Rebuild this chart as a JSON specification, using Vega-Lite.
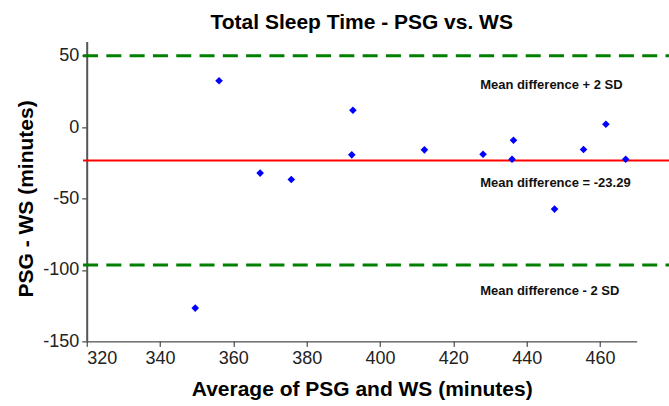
{
  "$schema": "https://vega.github.io/schema/vega-lite/v6.json",
  "width": 550,
  "height": 300,
  "autosize": {"type": "none"},
  "padding": {"left": 86.7, "top": 41.4, "right": 32.3, "bottom": 64.3},
  "background": "white",
  "title": {
    "text": "Total Sleep Time - PSG vs. WS",
    "font": "Liberation Sans",
    "fontSize": 21,
    "fontWeight": "bold",
    "color": "black",
    "anchor": "middle",
    "baseline": "alphabetic",
    "offset": 16,
    "dy": 25
  },
  "config": {
    "view": {"stroke": null},
    "axis": {
      "grid": false,
      "labelFont": "Liberation Sans",
      "labelFontSize": 18,
      "labelColor": "#222",
      "tickColor": "#222",
      "tickSize": 5,
      "labelPadding": 3,
      "titleFont": "Liberation Sans",
      "titleFontSize": 21,
      "titleFontWeight": "bold",
      "titleColor": "black",
      "labelExpr": "toString(datum.value)"
    }
  },
  "datasets": {
    "points": [
      {"avg": 356.1, "diff": 32.5},
      {"avg": 392.6, "diff": 11.8},
      {"avg": 392.3, "diff": -19.4},
      {"avg": 367.3, "diff": -32.2},
      {"avg": 375.8, "diff": -36.7},
      {"avg": 412.1, "diff": -15.9},
      {"avg": 428.1, "diff": -19.0},
      {"avg": 436.4, "diff": -9.2},
      {"avg": 436.0, "diff": -22.5},
      {"avg": 447.6, "diff": -57.4},
      {"avg": 455.5, "diff": -15.7},
      {"avg": 461.6, "diff": 2.0},
      {"avg": 467.0, "diff": -22.5},
      {"avg": 349.6, "diff": -126.7}
    ],
    "limits": [
      {"avg": 319, "avg_end": 479, "diff": 50.01},
      {"avg": 319, "avg_end": 479, "diff": -96.59}
    ],
    "mean": [
      {"avg": 319, "avg_end": 479, "diff": -23.29}
    ],
    "notes": [
      {"avg": 427.3, "diff": 26.7, "label": "Mean difference + 2 SD"},
      {"avg": 427.3, "diff": -41.6, "label": "Mean difference = -23.29"},
      {"avg": 427.3, "diff": -117.8, "label": "Mean difference - 2 SD"}
    ]
  },
  "layer": [
    {
      "data": {"name": "limits"},
      "mark": {"type": "rule", "clip": false, "color": "#008000", "strokeWidth": 3, "strokeDash": [15, 8.3]},
      "encoding": {
        "x": {
          "field": "avg",
          "type": "quantitative",
          "scale": {"domain": [320, 470], "nice": false, "zero": false},
          "axis": {
            "title": "Average of PSG and WS (minutes)",
            "values": [320, 340, 360, 380, 400, 420, 440, 460],
            "domainColor": "#222",
            "domainWidth": 1,
            "titleBaseline": "alphabetic",
            "titleY": 54
          }
        },
        "x2": {"field": "avg_end"},
        "y": {
          "field": "diff",
          "type": "quantitative",
          "scale": {"domain": [-150, 60], "nice": false, "zero": false},
          "axis": {
            "title": "PSG - WS (minutes)",
            "values": [-150, -100, -50, 0, 50],
            "domainColor": "#555",
            "domainWidth": 2,
            "titleBaseline": "alphabetic",
            "titleAngle": -90,
            "titleAlign": "center",
            "titleX": -54,
            "titleY": 157
          }
        }
      }
    },
    {
      "data": {"name": "mean"},
      "mark": {"type": "rule", "clip": false, "color": "#ff0000", "strokeWidth": 2},
      "encoding": {
        "x": {"field": "avg", "type": "quantitative"},
        "x2": {"field": "avg_end"},
        "y": {"field": "diff", "type": "quantitative"}
      }
    },
    {
      "data": {"name": "notes"},
      "mark": {"type": "text", "font": "Liberation Sans", "fontSize": 13, "fontWeight": "bold", "color": "#111", "align": "left", "baseline": "alphabetic"},
      "encoding": {
        "x": {"field": "avg", "type": "quantitative"},
        "y": {"field": "diff", "type": "quantitative"},
        "text": {"field": "label", "type": "nominal"}
      }
    },
    {
      "data": {"name": "points"},
      "mark": {"type": "point", "shape": "diamond", "filled": true, "size": 58, "color": "#0000ff", "opacity": 1},
      "encoding": {
        "x": {"field": "avg", "type": "quantitative"},
        "y": {"field": "diff", "type": "quantitative"}
      }
    }
  ]
}
